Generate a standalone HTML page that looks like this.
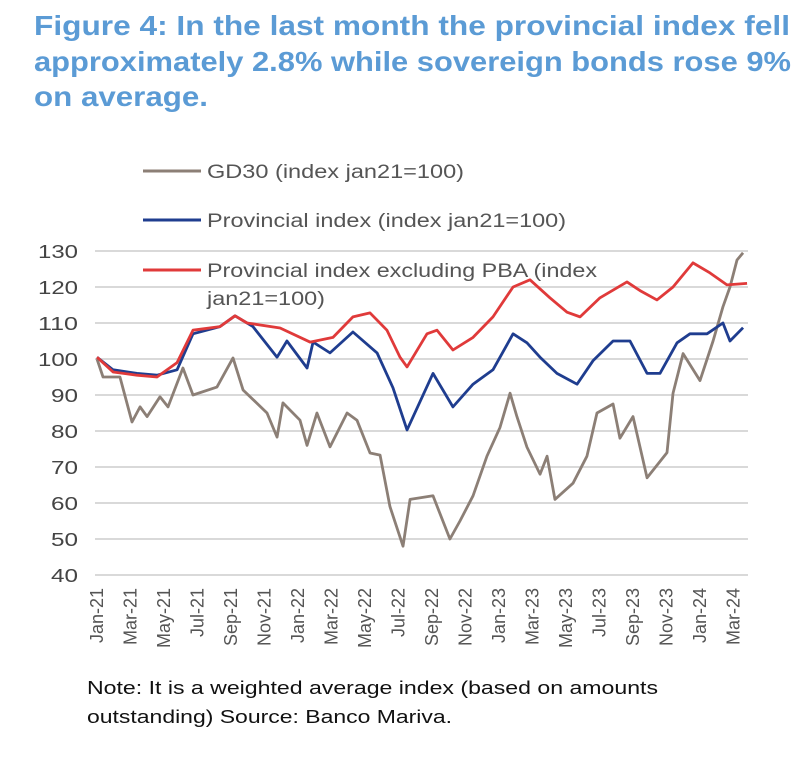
<!DOCTYPE html>
<html><head><meta charset="utf-8"><style>
body{margin:0;background:#fff;width:800px;height:768px;overflow:hidden;font-family:"Liberation Sans",sans-serif}
svg{position:absolute;left:0;top:0}
</style></head><body>
<svg id="chart" width="800" height="768" font-family="Liberation Sans, sans-serif">
<g fill="#5b9bd5" font-weight="bold" font-size="28">
<text x="34" y="35" textLength="756" lengthAdjust="spacingAndGlyphs">Figure 4: In the last month the provincial index fell</text>
<text x="34" y="71" textLength="757" lengthAdjust="spacingAndGlyphs">approximately 2.8% while sovereign bonds rose 9%</text>
<text x="34" y="106" textLength="174" lengthAdjust="spacingAndGlyphs">on average.</text>
</g>
<g fill="#111" font-size="18">
<text x="87" y="694" textLength="571" lengthAdjust="spacingAndGlyphs">Note: It is a weighted average index (based on amounts</text>
<text x="87" y="723" textLength="365" lengthAdjust="spacingAndGlyphs">outstanding) Source: Banco Mariva.</text>
</g>
</svg>
<script>
const months=["Jan-21","Feb-21","Mar-21","Apr-21","May-21","Jun-21","Jul-21","Aug-21","Sep-21","Oct-21","Nov-21","Dec-21","Jan-22","Feb-22","Mar-22","Apr-22","May-22","Jun-22","Jul-22","Aug-22","Sep-22","Oct-22","Nov-22","Dec-22","Jan-23","Feb-23","Mar-23","Apr-23","May-23","Jun-23","Jul-23","Aug-23","Sep-23","Oct-23","Nov-23","Dec-23","Jan-24","Feb-24","Mar-24","Apr-24"];
// dates as months since Jan-21
const gd30Dates=[0,0.36,1.37,2.09,2.57,2.99,3.76,4.24,5.13,5.73,7.16,8.12,8.72,10.15,10.75,11.1,12.12,12.54,13.13,13.91,14.93,15.52,16.3,16.9,17.49,18.27,18.69,20.06,21.07,21.67,22.45,23.28,24.06,24.66,25.07,25.67,26.45,26.87,27.34,28.42,29.25,29.85,30.81,31.22,32.0,32.84,34.03,34.39,34.99,36.0,36.78,37.37,37.79,38.21,38.57];
const gd30=[100,95,95,82.5,86.7,84,89.5,86.7,97.5,90,92.2,100.3,91.4,85,78.3,87.8,83,76,85,75.6,85,83,73.9,73.3,59,48,61,62,50,55,62,73,81,90.5,84,75.5,68,73,61,65.5,73,85,87.5,78,84,67,74,90.5,101.5,94,105,114.5,120,127.5,129.5];
const provDates=[0,0.96,2.39,3.58,4.78,5.73,7.34,8.24,9.31,10.75,11.34,12.54,12.9,13.91,15.28,16.72,17.67,18.51,20.06,21.25,22.45,23.64,24.84,25.67,26.45,27.46,28.66,29.61,30.81,31.82,32.84,33.61,34.63,35.4,36.42,37.37,37.79,38.57];
const provincial=[100.5,97,96,95.5,97,107,109,112,109,100.5,105,97.5,104.7,101.7,107.5,101.7,92,80.3,96,86.7,93,97,107,104.5,100.5,96,93,99.5,105,105,96,96,104.5,107,107,110,105,108.7];
const exDates=[0,0.96,2.39,3.58,4.78,5.73,7.34,8.24,8.96,10.93,12.72,14.09,15.28,16.3,17.31,18.09,18.51,19.7,20.3,21.25,22.45,23.64,24.84,25.85,27.04,28.06,28.84,30.03,31.64,32.42,33.43,34.39,35.58,36.6,37.61,38.81];
const provExPBA=[100.5,96.4,95.5,95,99,108,109,112,110,108.6,104.7,106,111.7,112.8,108,100.5,97.8,107,108,102.5,106,111.7,120,122,117,113,111.7,117,121.4,119,116.4,120,126.7,123.9,120.6,121];
const yTicks=[40,50,60,70,80,90,100,110,120,130];
const xLabels=["Jan-21","Mar-21","May-21","Jul-21","Sep-21","Nov-21","Jan-22","Mar-22","May-22","Jul-22","Sep-22","Nov-22","Jan-23","Mar-23","May-23","Jul-23","Sep-23","Nov-23","Jan-24","Mar-24"];
const NS="http://www.w3.org/2000/svg";
const svg=document.getElementById('chart');
const X0=97,XS=16.75,Y130=251,YS=3.6;
const xs=t=>X0+t*XS;
const ys=v=>Y130+(130-v)*YS;
function mk(t,a){const e=document.createElementNS(NS,t);for(const k in a)e.setAttribute(k,a[k]);svg.appendChild(e);return e;}
yTicks.forEach(v=>{
 const l=mk('line',{x1:95,x2:748,y1:ys(v),y2:ys(v),stroke:'#d9d9d9','stroke-width':2});
 
 
 const t=mk('text',{x:78,y:ys(v)+7,'text-anchor':'end','font-size':18,fill:'#444',textLength:v>=100?40:27,lengthAdjust:'spacingAndGlyphs'});
 t.textContent=v;
 
 
});
xLabels.forEach(lb=>{
 const i=months.indexOf(lb);const x=xs(i)+6;
 const t=mk('text',{x:x,y:588,'text-anchor':'end','font-size':18,fill:'#555',transform:`rotate(-90 ${x} 588)`});
 t.textContent=lb;
 
 
});
function line(dates,data,color,name){
 const p=mk('polyline',{points:data.map((v,i)=>xs(dates[i])+','+ys(v)).join(' '),fill:'none',stroke:color,'stroke-width':2.8,'stroke-linejoin':'round'});
 
 
}
line(gd30Dates,gd30,'#8c7f76','gd30-line');
line(provDates,provincial,'#1f3d8f','provincial-line');
line(exDates,provExPBA,'#e03a3a','provincial-ex-pba-line');
const leg=[['#8c7f76','GD30 (index jan21=100)',171,257],['#1f3d8f','Provincial index (index jan21=100)',220,359],['#e03a3a','Provincial index excluding PBA (index',270,390]];
leg.forEach((d,k)=>{
 const l=mk('line',{x1:143,x2:201,y1:d[2],y2:d[2],stroke:d[0],'stroke-width':3});
 
 
 const t=mk('text',{x:207,y:d[2]+7,'font-size':19,fill:'#555',textLength:d[3],lengthAdjust:'spacingAndGlyphs'});
 t.textContent=d[1];
 
 
});
const t2=mk('text',{x:207,y:305,'font-size':19,fill:'#555',textLength:118,lengthAdjust:'spacingAndGlyphs'});
t2.textContent='jan21=100)';


</script>
</body></html>
